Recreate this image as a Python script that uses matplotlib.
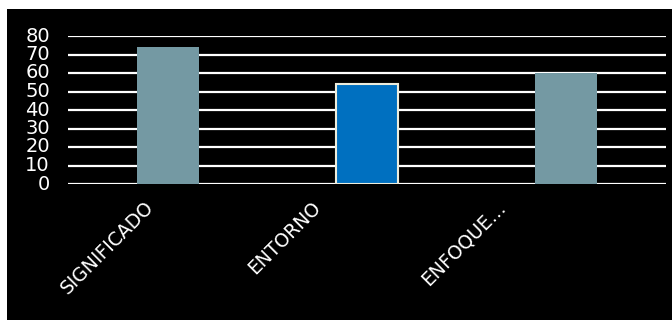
import matplotlib.pyplot as plt
import matplotlib.transforms as mtransforms
from matplotlib.patches import Rectangle

# chart data
categories = ["SIGNIFICADO", "ENTORNO", "ENFOQUE…"]
values = [74, 54, 60]
bar_colors = ["#7499A3", "#0070C0", "#7499A3"]
edge_colors = ["none", "#EDEDDC", "none"]
y_ticks = [0, 10, 20, 30, 40, 50, 60, 70, 80]

plt.rcParams['font.family'] = ['DejaVu Sans']

fig = plt.figure(figsize=(6.72, 3.2), dpi=100, facecolor='white')
# black panel behind the chart, leaving a thin white strip left and top
fig.patches.append(Rectangle((7 / 672, 0), 1 - 7 / 672, 1 - 9 / 320,
                             transform=fig.transFigure, facecolor='black',
                             edgecolor='none', zorder=-1))

ax = fig.add_axes([68 / 672, 136 / 320, 598 / 672, 148 / 320])
ax.set_facecolor('black')

x = range(len(categories))
ax.bar(x, values, width=0.31, color=bar_colors, edgecolor=edge_colors,
       linewidth=1.5, zorder=3)

ax.set_xlim(-0.5, len(categories) - 0.5)
ax.set_ylim(0, 80)
ax.set_yticks(y_ticks)
ax.grid(axis='y', color='white', linewidth=1.6, zorder=1)
ax.set_axisbelow(True)

for s in ax.spines.values():
    s.set_visible(False)

ax.tick_params(axis='y', length=0, pad=13, labelcolor='white', labelsize=14)
ax.tick_params(axis='x', length=0, pad=10, labelcolor='white', labelsize=13.5)
ax.set_xticks(list(x))
ax.set_xticklabels(categories, rotation=45, ha='right', rotation_mode='anchor')

# slanted labels sit a bit left of their bars (pixels)
label_shift = [-24, -56, -70]
for lbl, dx in zip(ax.get_xticklabels(), label_shift):
    shift = mtransforms.ScaledTranslation(dx / 100, 0, fig.dpi_scale_trans)
    lbl.set_transform(lbl.get_transform() + shift)

for lbl in ax.get_yticklabels():
    lbl.set_va('center')

fig.savefig('out.png', dpi=100, facecolor=fig.get_facecolor())
